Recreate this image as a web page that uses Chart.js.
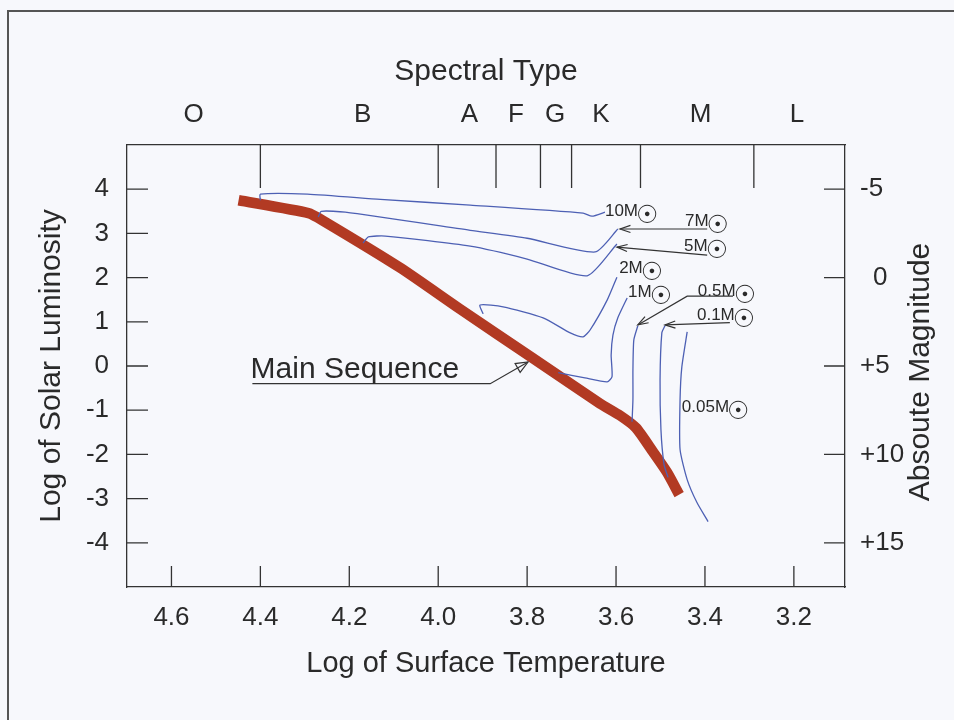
<!DOCTYPE html>
<html>
<head>
<meta charset="utf-8">
<script src="https://cdn.jsdelivr.net/npm/chart.js@4.4.1/dist/chart.umd.min.js"></script>
<style>
html, body { margin: 0; padding: 0; background: #f7f8fc; }
#wrap { width: 954px; height: 720px; }
</style>
</head>
<body>
<div id="wrap"><canvas id="hrChart" width="954" height="720"></canvas></div>
<script>
// axis ticks
const tempTicks = [4.6, 4.4, 4.2, 4.0, 3.8, 3.6, 3.4, 3.2];
const lumTicks = [4, 3, 2, 1, 0, -1, -2, -3, -4];
const magTicks = [-5, 0, 5, 10, 15];
const magLabels = ['-5', '\u20020', '+5', '+10', '+15'];
const spectralTypes = ['O', 'B', 'A', 'F', 'G', 'K', 'M', 'L'];
const spectralCentres = [4.55, 4.17, 3.93, 3.825, 3.737, 3.634, 3.41, 3.193];
const spectralBounds = [4.4, 4.0, 3.87, 3.77, 3.70, 3.545, 3.29];

// main sequence (log T, log L)
const msTemp = [4.449, 4.292, 4.261, 4.085, 3.951, 3.789, 3.636, 3.591, 3.555, 3.517, 3.485, 3.458];
const msLum  = [3.75, 3.46, 3.30, 2.22, 1.29, 0.19, -0.85, -1.12, -1.40, -1.94, -2.41, -2.91];

// evolutionary tracks
const m10Temp = [4.40, 4.40, 4.294, 4.130, 3.928, 3.674, 3.654, 3.625];
const m10Lum  = [3.75, 3.89, 3.89, 3.77, 3.64, 3.46, 3.39, 3.48];
const m7Temp = [4.270, 4.263, 4.209, 3.928, 3.80, 3.647, 3.596];
const m7Lum  = [3.37, 3.50, 3.48, 3.07, 2.89, 2.58, 3.10];
const m5Temp = [4.169, 4.157, 4.119, 3.928, 3.80, 3.665, 3.598];
const m5Lum  = [2.78, 2.92, 2.94, 2.71, 2.42, 2.04, 2.76];
const m2Temp = [3.899, 3.906, 3.854, 3.764, 3.703, 3.674, 3.658, 3.620, 3.598];
const m2Lum  = [1.18, 1.38, 1.34, 1.09, 0.75, 0.66, 0.82, 1.49, 2.01];
const m1Temp = [3.730, 3.670, 3.620, 3.609, 3.611, 3.607, 3.596, 3.575];
const m1Lum  = [-0.15, -0.27, -0.36, -0.24, 0.25, 0.70, 1.09, 1.54];
const m05Temp = [3.551, 3.560, 3.562, 3.562, 3.564];
const m05Lum  = [0.91, 0.59, -0.09, -0.76, -1.26];
const m01Temp = [3.490, 3.497, 3.501, 3.499, 3.492, 3.483];
const m01Lum  = [0.91, 0.75, -0.31, -1.44, -2.23, -2.52];
const m005Temp = [3.440, 3.452, 3.456, 3.456, 3.440, 3.418, 3.393];
const m005Lum  = [0.77, -0.02, -0.76, -1.89, -2.57, -3.09, -3.52];

// mass labels
const massLabels = ['10M', '7M', '5M', '2M', '1M', '0.5M', '0.1M', '0.05M'];
const massLabelTemp = [3.625, 3.445, 3.447, 3.593, 3.573, 3.416, 3.418, 3.452];
const massLabelLum  = [3.39, 3.16, 2.60, 2.10, 1.56, 1.58, 1.04, -1.03];

// pointer lines (log T, log L)
const arrow7M = [[3.395, 3.10], [3.591, 3.10]];
const arrow5M = [[3.395, 2.51], [3.598, 2.69]];
const arrow05M = [[3.337, 1.58], [3.440, 1.58], [3.551, 0.93]];
const arrow01M = [[3.344, 0.98], [3.490, 0.93]];
const arrowMS = [[4.418, -0.40], [3.883, -0.40], [3.798, 0.09]];
const msLabelPos = [4.422, -0.27];

const toPoints = (t, l) => t.map((v, i) => ({ x: v, y: l[i] }));

const blue = '#4d60b4';
const ink = '#2a2a2a';

function track(t, l) {
    return {
        data: toPoints(t, l),
        showLine: true,
        borderColor: blue,
        borderWidth: 1.3,
        pointRadius: 0,
        tension: 0.2
    };
}

const background = {
    id: 'background',
    beforeDraw(chart) {
        const ctx = chart.ctx;
        ctx.save();
        ctx.fillStyle = '#f7f8fc';
        ctx.fillRect(0, 0, chart.width, chart.height);
        ctx.strokeStyle = '#555';
        ctx.lineWidth = 2;
        ctx.beginPath();
        ctx.moveTo(8, chart.height);
        ctx.lineTo(8, 11);
        ctx.lineTo(chart.width, 11);
        ctx.stroke();
        ctx.restore();
    }
};

const innerTicks = {
    id: 'innerTicks',
    beforeDatasetsDraw(chart) {
        const { ctx, chartArea: a, scales } = chart;
        ctx.save();
        ctx.strokeStyle = '#333';
        ctx.lineWidth = 1.3;
        ctx.beginPath();
        tempTicks.forEach(v => {
            const x = scales.x.getPixelForValue(v);
            ctx.moveTo(x, a.bottom); ctx.lineTo(x, a.bottom - 21);
        });
        lumTicks.forEach(v => {
            const y = scales.y.getPixelForValue(v);
            ctx.moveTo(a.left, y); ctx.lineTo(a.left + 21, y);
        });
        magTicks.forEach(v => {
            const y = scales.y2.getPixelForValue(v);
            ctx.moveTo(a.right, y); ctx.lineTo(a.right - 21, y);
        });
        spectralBounds.forEach(v => {
            const x = scales.x2.getPixelForValue(v);
            ctx.moveTo(x, a.top); ctx.lineTo(x, a.top + 43);
        });
        ctx.stroke();

        // right axis title, reads bottom to top
        ctx.fillStyle = ink;
        ctx.font = '30px "Liberation Sans", Arial, sans-serif';
        ctx.textAlign = 'center';
        ctx.textBaseline = 'middle';
        ctx.translate(921, (a.top + a.bottom) / 2 + 6);
        ctx.rotate(-Math.PI / 2);
        ctx.fillText('Absoute Magnitude', 0, 0);
        ctx.restore();
    }
};

function arrowPath(ctx, scales, pts, closedHead) {
    const p = pts.map(q => [scales.x.getPixelForValue(q[0]), scales.y.getPixelForValue(q[1])]);
    ctx.beginPath();
    p.forEach((q, i) => i ? ctx.lineTo(q[0], q[1]) : ctx.moveTo(q[0], q[1]));
    ctx.stroke();
    const [x1, y1] = p[p.length - 2];
    const [x2, y2] = p[p.length - 1];
    const ang = Math.atan2(y2 - y1, x2 - x1);
    const len = closedHead ? 13 : 11;
    const spread = closedHead ? 0.4 : 0.33;
    const ax = x2 - len * Math.cos(ang - spread), ay = y2 - len * Math.sin(ang - spread);
    const bx = x2 - len * Math.cos(ang + spread), by = y2 - len * Math.sin(ang + spread);
    ctx.beginPath();
    ctx.moveTo(ax, ay);
    ctx.lineTo(x2, y2);
    ctx.lineTo(bx, by);
    if (closedHead) ctx.closePath();
    ctx.stroke();
}

const annotations = {
    id: 'annotations',
    afterDatasetsDraw(chart) {
        const { ctx, scales } = chart;
        ctx.save();
        ctx.strokeStyle = '#333';
        ctx.lineWidth = 1.2;
        arrowPath(ctx, scales, arrow7M, false);
        arrowPath(ctx, scales, arrow5M, false);
        arrowPath(ctx, scales, arrow05M, false);
        arrowPath(ctx, scales, arrow01M, false);
        arrowPath(ctx, scales, arrowMS, true);

        ctx.fillStyle = ink;
        ctx.textAlign = 'left';
        ctx.textBaseline = 'alphabetic';
        massLabels.forEach((txt, i) => {
            const x = scales.x.getPixelForValue(massLabelTemp[i]);
            const y = scales.y.getPixelForValue(massLabelLum[i]);
            ctx.font = '17px "Liberation Sans", Arial, sans-serif';
            ctx.fillText(txt, x, y);
            const w = ctx.measureText(txt).width;
            ctx.font = 'bold 25px "DejaVu Sans", sans-serif';
            ctx.fillText('\u2609', x + w - 2, y + 7);
        });

        ctx.font = '30px "Liberation Sans", Arial, sans-serif';
        ctx.fillText('Main Sequence',
            scales.x.getPixelForValue(msLabelPos[0]),
            scales.y.getPixelForValue(msLabelPos[1]));
        ctx.restore();
    }
};

const tickFont = { family: '"Liberation Sans", Arial, sans-serif', size: 26 };
const titleFont = { family: '"Liberation Sans", Arial, sans-serif', size: 30 };

const ctx = document.getElementById('hrChart').getContext('2d');
const hrChart = new Chart(ctx, {
    type: 'scatter',
    data: {
        datasets: [
            track(m10Temp, m10Lum),
            track(m7Temp, m7Lum),
            track(m5Temp, m5Lum),
            track(m2Temp, m2Lum),
            track(m1Temp, m1Lum),
            track(m05Temp, m05Lum),
            track(m01Temp, m01Lum),
            track(m005Temp, m005Lum),
            {
                label: 'Main Sequence',
                data: toPoints(msTemp, msLum),
                showLine: true,
                borderColor: '#b23a23',
                borderWidth: 10.5,
                borderJoinStyle: 'round',
                pointRadius: 0,
                tension: 0.2
            }
        ]
    },
    options: {
        responsive: false,
        devicePixelRatio: 1,
        animation: false,
        layout: { padding: 0 },
        plugins: { legend: { display: false }, tooltip: { enabled: false } },
        scales: {
            x: {
                type: 'linear', position: 'bottom', reverse: true,
                min: 3.085, max: 4.7,
                afterBuildTicks: s => { s.ticks = tempTicks.map(v => ({ value: v })); },
                afterFit: s => { s.height = 133; },
                grid: { display: false },
                border: { display: true, color: '#333', width: 1.3 },
                ticks: { autoSkip: false, maxRotation: 0, padding: 7, color: ink, font: tickFont,
                         callback: v => v.toFixed(1) },
                title: { display: true, text: 'Log of Surface Temperature', color: ink,
                         font: { family: titleFont.family, size: 29 }, padding: { top: 0, bottom: 39 } }
            },
            x2: {
                type: 'linear', position: 'top', reverse: true,
                min: 3.085, max: 4.7,
                afterBuildTicks: s => { s.ticks = spectralCentres.map(v => ({ value: v })); },
                afterFit: s => { s.height = 145; },
                grid: { display: false },
                border: { display: true, color: '#333', width: 1.3 },
                ticks: { autoSkip: false, maxRotation: 0, padding: 7, color: ink, font: tickFont,
                         callback: (v, i) => spectralTypes[i] },
                title: { display: true, text: 'Spectral Type', color: ink, font: titleFont,
                         padding: { top: 54, bottom: 0 } }
            },
            y: {
                type: 'linear', position: 'left',
                min: -5, max: 5,
                afterBuildTicks: s => { s.ticks = lumTicks.map(v => ({ value: v })); },
                afterFit: s => { s.width = 127; },
                grid: { display: false },
                border: { display: true, color: '#333', width: 1.3 },
                ticks: { padding: 10, color: ink, font: tickFont, callback: v => String(v) },
                title: { display: true, text: 'Log of Solar Luminosity', color: ink, font: titleFont,
                         padding: { top: 34, bottom: 0 } }
            },
            y2: {
                type: 'linear', position: 'right', reverse: true,
                min: -7.5, max: 17.5,
                afterBuildTicks: s => { s.ticks = magTicks.map(v => ({ value: v })); },
                afterFit: s => { s.width = 109; },
                grid: { display: false },
                border: { display: true, color: '#333', width: 1.3 },
                ticks: { padding: 7, color: ink, font: tickFont, callback: (v, i) => magLabels[i] }
            }
        }
    },
    plugins: [background, innerTicks, annotations]
});
</script>
</body>
</html>
